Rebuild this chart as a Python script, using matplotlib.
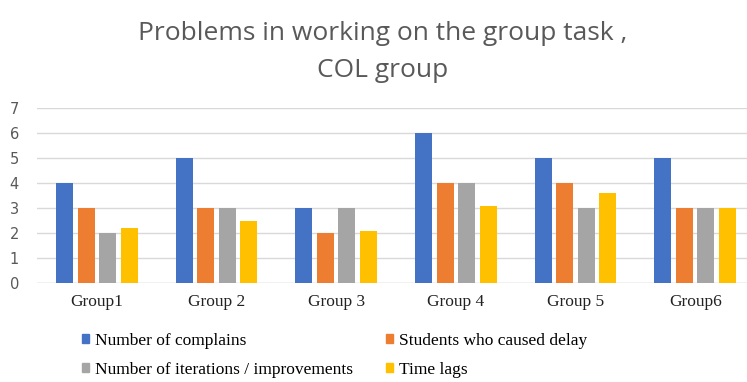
import matplotlib.pyplot as plt
from matplotlib.patches import Patch
import numpy as np

groups = ['Group1', 'Group 2', 'Group 3', 'Group 4', 'Group 5', 'Group6']
complains = [4, 5, 3, 6, 5, 5]
delay = [3, 3, 2, 4, 4, 3]
iterations = [2, 3, 3, 4, 3, 3]
time_lags = [2.2, 2.5, 2.1, 3.1, 3.6, 3.0]

series = [
    ('Number of complains', complains, '#4472C4'),
    ('Students who caused delay', delay, '#ED7D31'),
    ('Number of iterations / improvements', iterations, '#A5A5A5'),
    ('Time lags', time_lags, '#FFC000'),
]

fig = plt.figure(figsize=(7.47, 3.82), dpi=100)
ax = fig.add_axes([37 / 747, 99 / 382, 718 / 747, 175 / 382])

x = np.arange(len(groups))
step = 0.18
width = 0.142
for i, (name, vals, color) in enumerate(series):
    ax.bar(x + (i - 1.5) * step, vals, width, color=color, label=name, zorder=3)

ax.set_xlim(-0.5, len(groups) - 0.5)
ax.set_ylim(0, 7)
ax.set_yticks(range(8))
ax.yaxis.grid(True, color='#d9d9d9', linewidth=1, zorder=0)
for s in ax.spines.values():
    s.set_visible(False)
ax.axhline(0, color='#d9d9d9', linewidth=1, zorder=2)
ax.tick_params(axis='both', length=0)
ax.tick_params(axis='y', labelsize=10.5, labelcolor='#595959', pad=13)
ax.set_xticks(x)
ax.set_xticklabels(groups, family='Liberation Serif', fontsize=12.5, color='#222222')
ax.tick_params(axis='x', pad=8)

fig.text(0.512, 0.945, 'Problems in working on the group task ,\nCOL group',
         ha='center', va='top', fontsize=19, color='#595959',
         linespacing=1.65, family='Open Sans')

# two-column legend: row 1 complains / delay, row 2 iterations / time lags
order = [0, 2, 1, 3]
handles = [Patch(color=series[k][2]) for k in order]
labels = [series[k][0] for k in order]
fig.legend(handles, labels, ncol=2, loc='upper left',
           bbox_to_anchor=(66 / 747, 1 - 317 / 382), frameon=False,
           prop={'family': 'Liberation Serif', 'size': 12.5},
           handlelength=0.45, handleheight=0.45, handletextpad=0.3,
           labelspacing=0.75, columnspacing=1.9)

fig.savefig('out.png')
